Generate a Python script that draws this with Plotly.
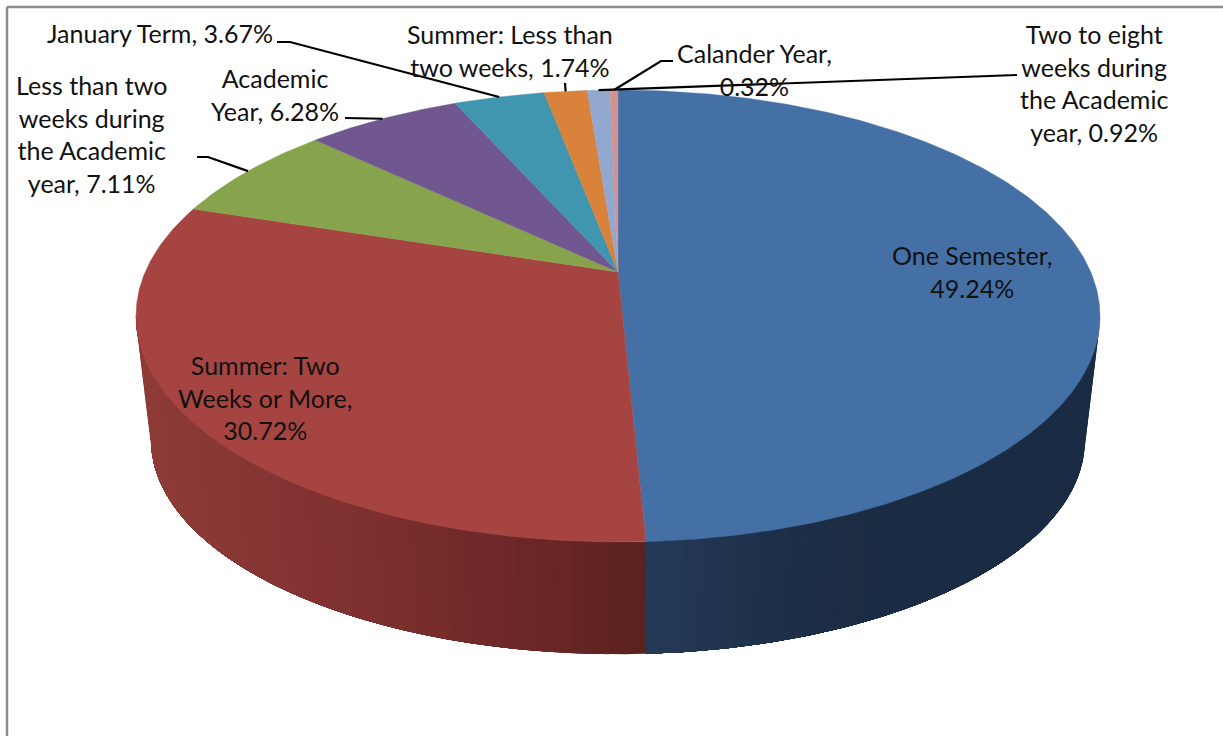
import numpy as np
import plotly.graph_objects as go

# ---- data -------------------------------------------------------------
categories = ["One Semester", "Summer: Two Weeks or More",
              "Less than two weeks during the Academic year", "Academic Year",
              "January Term", "Summer: Less than two weeks",
              "Two to eight weeks during the Academic year", "Calander Year"]
values = [49.24, 30.72, 7.11, 6.28, 3.67, 1.74, 0.92, 0.32]
label_text = ["One Semester,<br>49.24%", "Summer: Two<br>Weeks or More,<br>30.72%",
              "Less than two<br>weeks during<br>the Academic<br>year, 7.11%",
              "Academic<br>Year, 6.28%", "January Term, 3.67%",
              "Summer: Less than<br>two weeks, 1.74%",
              "Two to eight<br>weeks during<br>the Academic<br>year, 0.92%",
              "Calander Year,<br>0.32%"]

# ---- styles / layout ---------------------------------------------------
colors = ["#4570A6", "#A64441", "#87A44C", "#71578F", "#4096AF", "#D9823B", "#93A8CF", "#D09392"]
label_pos = [(972, 271), (265, 397), (91, 134), (275, 94), (160, 33), (510, 50), (1094, 83), (754, 69)]
label_size = 25
# leader line start points (None = no leader)
leader_start = [None, None, [(197, 157), (208, 157)], [(345, 118)], [(277, 42), (290, 42)],
                [(565, 83)], [(1017, 75)], [(673, 61), (661, 61)]]

CX = 618.0
K = 0.1947
TOP = dict(a=472.8, A=272.0, B=-164.5)
BOT = dict(a=458.0, A=398.4, B=-128.4)


def project(frac, g):
    t = 2 * np.pi * np.asarray(frac, dtype=float) / 100.0
    u, v = np.sin(t), np.cos(t)
    w = 1 + K * v
    return CX + g["a"] * u / w, (g["A"] + g["B"] * v) / w


def shade(x, stops):
    xs, cs = zip(*stops)
    cs = np.array(cs, dtype=float)
    return "rgb(%d,%d,%d)" % tuple(np.interp(x, xs, cs[:, i]) for i in range(3))


side_shades = {
    0: [(646, (37, 58, 87)), (760, (31, 50, 75)), (860, (27, 44, 67)), (1090, (26, 44, 67))],
    1: [(145, (143, 60, 56)), (290, (132, 52, 50)), (420, (120, 46, 44)), (560, (104, 38, 37)), (646, (90, 34, 32))],
}

fig = go.Figure()
cum = np.concatenate([[0], np.cumsum(values)])
v_limit = np.degrees(np.arccos(-K)) / 360 * 100  # where the side wall meets the silhouette

# side wall of the front slices: each band runs on to the slice's end and the next
# band paints over it, so no background shows through between bands
for i in range(len(values)):
    lo = max(cum[i], v_limit)
    hi = min(cum[i + 1], 100 - v_limit)
    if hi <= lo:
        continue
    n = max(int((hi - lo) * 2), 2)
    edges = lo + (hi - lo) * np.arange(n + 1) / n
    m = 120
    for a, b in zip(edges[:-1], edges[1:]):
        run = a + (hi - a) * np.arange(m + 1) / m
        x1, y1 = project(run, TOP)
        x2, y2 = project(run[::-1], BOT)
        xa, _ = project((a + b) / 2, TOP)
        xb, _ = project((a + b) / 2, BOT)
        col = shade((float(xa) + float(xb)) / 2, side_shades[i])
        fig.add_trace(go.Scatter(x=list(x1) + list(x2), y=list(y1) + list(y2), mode="lines",
                                 fill="toself", fillcolor=col, line=dict(color=col, width=0),
                                 hoverinfo="skip", showlegend=False))

# top face
for i, val in enumerate(values):
    n = max(int(val * 6), 4)
    fr = cum[i] + val * np.arange(n + 1) / n
    x, y = project(fr, TOP)
    fig.add_trace(go.Scatter(x=[CX] + list(x) + [CX], y=[TOP["A"]] + list(y) + [TOP["A"]],
                             mode="lines", fill="toself", fillcolor=colors[i],
                             line=dict(color=colors[i], width=0.4), name=categories[i],
                             hoverinfo="name", showlegend=False))

# leader lines end on the rim at each slice's middle
for i, start in enumerate(leader_start):
    if start is None:
        continue
    ex, ey = project(cum[i] + values[i] / 2, TOP)
    fig.add_trace(go.Scatter(x=[p[0] for p in start] + [float(ex)], y=[p[1] for p in start] + [float(ey)],
                             mode="lines", line=dict(color="#000000", width=2.2),
                             hoverinfo="skip", showlegend=False))

annotations = [dict(x=p[0], y=p[1], text=t, showarrow=False, xref="x", yref="y",
                    xanchor="center", yanchor="middle", align="center",
                    font=dict(family="Lato", size=label_size, color="#111111"))
               for t, p in zip(label_text, label_pos)]

fig.update_layout(
    width=1223, height=736, margin=dict(l=0, r=0, t=0, b=0),
    paper_bgcolor="white", plot_bgcolor="white", showlegend=False,
    xaxis=dict(range=[0, 1223], visible=False, fixedrange=True),
    yaxis=dict(range=[736, 0], visible=False, fixedrange=True),
    annotations=annotations,
    shapes=[
        dict(type="line", xref="x", yref="y", x0=7, x1=1223, y0=7, y1=7, line=dict(color="#8c8c8c", width=2.5)),
        dict(type="line", xref="x", yref="y", x0=7, x1=7, y0=7, y1=736, line=dict(color="#8c8c8c", width=2.5)),
    ],
)
fig.write_html("out.html", config={"displayModeBar": False},
               post_script="document.body.style.margin='0';")
